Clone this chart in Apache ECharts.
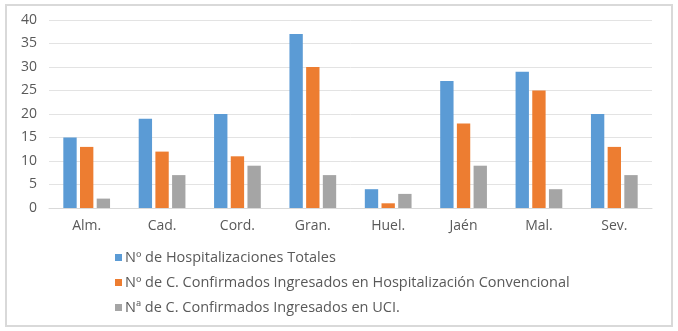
<!DOCTYPE html>
<html><head><meta charset="utf-8">
<script src="https://cdn.jsdelivr.net/npm/echarts@6/dist/echarts.min.js"></script>
<style>
html,body{margin:0;padding:0;background:#fff;}
#c{width:678px;height:331px;position:relative;}
#frame{position:absolute;left:5px;top:4px;width:664px;height:319px;border:2px solid #d9d9d9;pointer-events:none;}
</style></head>
<body><div id="c"></div><div id="frame"></div>
<script>
const categories = ['Alm.','Cad.','Cord.','Gran.','Huel.','Jaén','Mal.','Sev.'];
const seriesNames = ['Nº de Hospitalizaciones Totales','Nº de C. Confirmados Ingresados en Hospitalización Convencional','Nª de C. Confirmados Ingresados en UCI.'];
const totales = [15,19,20,37,4,27,29,20];
const convencional = [13,12,11,30,1,18,25,13];
const uci = [2,7,9,7,3,9,4,7];
const yTicks = {min:0,max:40,interval:5};
const colors = ['#5B9BD5','#ED7D31','#A5A5A5'];

const chart = echarts.init(document.getElementById('c'));
const font = "'Open Sans', sans-serif";
chart.setOption({
  animation:false,
  color:colors,
  textStyle:{fontFamily:font},
  grid:{left:49,right:26,top:20,bottom:123},
  xAxis:{type:'category',data:categories,
    axisLine:{lineStyle:{color:'#d9d9d9',width:1}},axisTick:{show:false},
    axisLabel:{color:'#595959',fontSize:14,margin:11,fontFamily:font}},
  yAxis:{type:'value',min:yTicks.min,max:yTicks.max,interval:yTicks.interval,
    axisLine:{show:false},axisTick:{show:false},
    splitLine:{lineStyle:{color:'#e3e3e3',width:1}},
    axisLabel:{color:'#595959',fontSize:14,margin:12,fontFamily:font}},
  legend:{orient:'vertical',left:110,top:245,itemWidth:7,itemHeight:7,itemGap:10,icon:'rect',
    textStyle:{color:'#595959',fontSize:14.5,fontFamily:font,padding:[0,0,0,-2]},
    data:seriesNames},
  series:[
    {name:seriesNames[0],type:'bar',data:totales,barGap:'25%',barCategoryGap:'38%'},
    {name:seriesNames[1],type:'bar',data:convencional,barGap:'25%',barCategoryGap:'38%'},
    {name:seriesNames[2],type:'bar',data:uci,barGap:'25%',barCategoryGap:'38%'}
  ]
});
</script></body></html>
